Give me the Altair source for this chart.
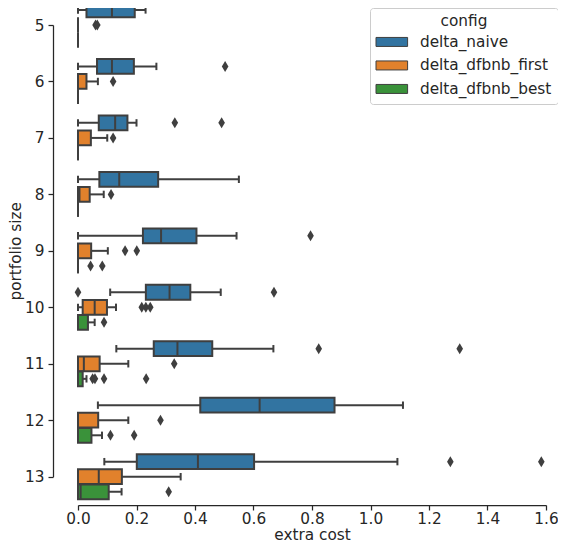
import altair as alt
import pandas as pd

# ---------------- data ----------------
sizes = [5, 6, 7, 8, 9, 10, 11, 12, 13]
configs = ["delta_naive", "delta_dfbnb_first", "delta_dfbnb_best"]
colors = ["#3274a1", "#e1812c", "#3a923a"]

naive_lo = [0.0, 0.0, 0.0, 0.0, 0.0, 0.110, 0.131, 0.068, 0.090]
naive_q1 = [0.029, 0.065, 0.071, 0.073, 0.222, 0.232, 0.259, 0.418, 0.201]
naive_med = [0.116, 0.116, 0.127, 0.141, 0.284, 0.313, 0.340, 0.621, 0.410]
naive_q3 = [0.194, 0.191, 0.169, 0.274, 0.405, 0.384, 0.459, 0.877, 0.602]
naive_hi = [0.231, 0.268, 0.200, 0.550, 0.542, 0.488, 0.668, 1.111, 1.092]
naive_out = [[], [0.503], [0.331, 0.491], [], [0.795], [0.0, 0.670],
             [0.823, 1.305], [], [1.273, 1.584]]

first_lo = [0.0, 0.0, 0.0, 0.0, 0.0, 0.0, 0.0, 0.0, 0.0]
first_q1 = [0.0, 0.0, 0.0, 0.0, 0.0, 0.016, 0.0, 0.0, 0.0]
first_med = [0.0, 0.0, 0.0, 0.005, 0.0, 0.057, 0.020, 0.0, 0.071]
first_q3 = [0.0, 0.029, 0.044, 0.040, 0.045, 0.099, 0.074, 0.069, 0.150]
first_hi = [0.0, 0.068, 0.100, 0.088, 0.102, 0.130, 0.172, 0.172, 0.351]
first_out = [[0.060, 0.066], [0.120], [0.120], [0.113], [0.161, 0.201],
             [0.218, 0.232, 0.247], [0.329], [0.282], []]

best_lo = [0.0, 0.0, 0.0, 0.0, 0.0, 0.0, 0.0, 0.0, 0.0]
best_q1 = [0.0, 0.0, 0.0, 0.0, 0.0, 0.0, 0.0, 0.0, 0.0]
best_med = [0.0, 0.0, 0.0, 0.0, 0.0, 0.0, 0.0, 0.0, 0.009]
best_q3 = [0.0, 0.0, 0.0, 0.0, 0.0, 0.034, 0.016, 0.046, 0.105]
best_hi = [0.0, 0.0, 0.0, 0.0, 0.0, 0.057, 0.029, 0.082, 0.149]
best_out = [[], [], [], [], [0.043, 0.083], [0.089],
            [0.050, 0.058, 0.089, 0.233], [0.111, 0.192], [0.310]]

x_ticks = [0.0, 0.2, 0.4, 0.6, 0.8, 1.0, 1.2, 1.4, 1.6]

# ---------------- tables ----------------
stats = {
    "delta_naive": (naive_lo, naive_q1, naive_med, naive_q3, naive_hi, naive_out),
    "delta_dfbnb_first": (first_lo, first_q1, first_med, first_q3, first_hi, first_out),
    "delta_dfbnb_best": (best_lo, best_q1, best_med, best_q3, best_hi, best_out),
}
box_rows, out_rows = [], []
for cfg in configs:
    lo, q1, med, q3, hi, outs = stats[cfg]
    for i, s in enumerate(sizes):
        box_rows.append(dict(size=s, config=cfg, lo=lo[i], q1=q1[i], med=med[i],
                             q3=q3[i], hi=hi[i]))
        for v in outs[i]:
            out_rows.append(dict(size=s, config=cfg, value=v))
box_df = pd.DataFrame(box_rows)
out_df = pd.DataFrame(out_rows)

# ---------------- styling ----------------
FONT = "DejaVu Sans"
FS = 15.3
GRAY = "#3f3f3f"
TXT = "#262626"
LW = 2

pos_expr = ("datum.size + 0.2667 * (indexof(['delta_naive','delta_dfbnb_first',"
            "'delta_dfbnb_best'], datum.config) - 1)")

xscale = alt.Scale(domain=[0, 1.6], range=[25, 493], nice=False, zero=False)
yscale = alt.Scale(domain=[5, 13], range=[17, 468.7], nice=False, zero=False)
xaxis = alt.Axis(values=x_ticks, format=".1f", grid=False, tickSize=5,
                 labelPadding=1, titlePadding=1, labelFlush=False)
yaxis = alt.Axis(values=sizes, format="d", grid=False, tickSize=5,
                 labelPadding=4, titlePadding=1, labelFlush=False)


def X(f):
    return alt.X(f"{f}:Q", scale=xscale, axis=xaxis, title="extra cost")


def Y(f):
    return alt.Y(f"{f}:Q", scale=yscale, axis=yaxis, title="portfolio size")


base = (alt.Chart(box_df)
        .transform_calculate(pos=pos_expr)
        .transform_calculate(b0="datum.pos - 0.1307", b1="datum.pos + 0.1307",
                             c0="datum.pos - 0.0653", c1="datum.pos + 0.0653"))

whiskers = base.mark_rule(color=GRAY, strokeWidth=LW).encode(
    x=X("lo"), x2="hi:Q", y=Y("pos"))
cap_lo = base.mark_rule(color=GRAY, strokeWidth=LW).encode(
    x=X("lo"), y=Y("c0"), y2="c1:Q")
cap_hi = base.mark_rule(color=GRAY, strokeWidth=LW).encode(
    x=X("hi"), y=Y("c0"), y2="c1:Q")

legend = alt.Legend(
    title="config", orient="none", legendX=317, legendY=0, padding=6,
    symbolType="M-2.633,-0.75H2.633V0.75H-2.633Z", symbolSize=144,
    symbolOffset=8.15, labelOffset=20.5,
    symbolStrokeColor=GRAY, symbolStrokeWidth=1,
    labelFont=FONT, labelFontSize=FS, labelColor=TXT, labelLimit=400,
    titleFont=FONT, titleFontSize=FS, titleFontWeight="normal", titleColor=TXT,
    titleAnchor="middle", titlePadding=5, rowPadding=7.5,
    strokeColor="#cccccc", fillColor="white", cornerRadius=3,
)

boxes = base.mark_rect(stroke=GRAY, strokeWidth=LW).encode(
    x=X("q1"), x2="q3:Q", y=Y("b0"), y2="b1:Q",
    fill=alt.Fill("config:N", scale=alt.Scale(domain=configs, range=colors),
                  legend=legend))

medians = base.mark_rule(color=GRAY, strokeWidth=LW).encode(
    x=X("med"), y=Y("b0"), y2="b1:Q")

outliers = (alt.Chart(out_df)
            .transform_calculate(pos=pos_expr)
            .mark_point(shape="M0,-1L0.6,0L0,1L-0.6,0Z", size=121, filled=True,
                        color=GRAY, opacity=1)
            .encode(x=X("value"), y=Y("pos")))

chart = (alt.layer(whiskers, cap_lo, cap_hi, boxes, medians, outliers)
         .properties(width=503, height=497,
                     padding={"left": 45, "top": 0, "right": 2, "bottom": 39},
                     autosize=alt.AutoSizeParams(type="none"),
                     background="white")
         .configure_view(stroke=None)
         .configure_axis(labelFont=FONT, titleFont=FONT, labelFontSize=FS,
                         titleFontSize=FS, titleFontWeight="normal",
                         labelColor=TXT, titleColor=TXT, domainColor=TXT,
                         tickColor=TXT, domainWidth=1.25, tickWidth=1.25))

chart.save("out.html", embed_options={"renderer": "svg", "actions": False})
